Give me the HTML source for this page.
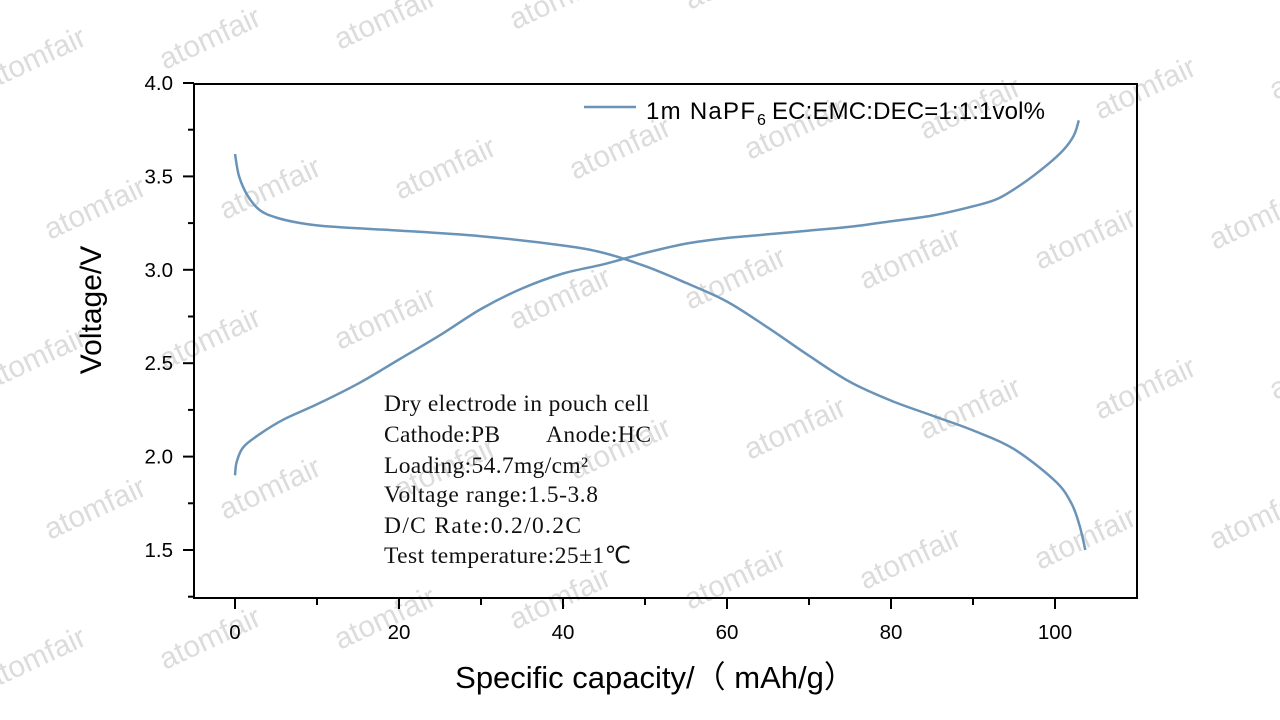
<!DOCTYPE html>
<html><head><meta charset="utf-8"><style>
html,body{margin:0;padding:0;background:#fff;overflow:hidden;width:1280px;height:720px;}
svg{display:block;}
</style></head><body>
<svg id="chart" width="1280" height="720" xmlns="http://www.w3.org/2000/svg" font-family="Liberation Sans, Arial, sans-serif" style="overflow:hidden">
<g id="wm"></g>
<rect x="194" y="84" width="943" height="514" fill="none" stroke="#000" stroke-width="2"/>
<g id="axes"></g>
<g id="series"></g>
<g>
<line x1="584" y1="107" x2="636" y2="107" stroke="#6a93b8" stroke-width="2.5"/>
<text font-size="24"><tspan x="646" y="119" textLength="109">1m NaPF</tspan><tspan x="757" y="125" font-size="16">6</tspan><tspan x="772" y="119" textLength="273">EC:EMC:DEC=1:1:1vol%</tspan></text>
</g>
<g font-family="Liberation Serif, serif" font-size="23.5" fill="#111">
<text x="384" y="411" textLength="265">Dry electrode in pouch cell</text>
<text x="384" y="442" textLength="116">Cathode:PB</text>
<text x="546" y="442" textLength="105">Anode:HC</text>
<text x="384" y="473" textLength="204">Loading:54.7mg/cm²</text>
<text x="384" y="502" textLength="214">Voltage range:1.5-3.8</text>
<text x="384" y="533" textLength="197">D/C Rate:0.2/0.2C</text>
<text x="384" y="563" textLength="247">Test temperature:25±1℃</text>
</g>
<text transform="translate(101,310) rotate(-90)" text-anchor="middle" font-size="30">Voltage/V</text>
<text x="655" y="688" text-anchor="middle" font-size="31">Specific capacity/（ mAh/g）</text>
</svg>
<script>
const xTicks=[0,20,40,60,80,100];
const yTicks=[1.5,2.0,2.5,3.0,3.5,4.0];
const chargeCap=[0,0.2,1,3,6,10,15,20,25,30,35,40,45,50,55,60,65,70,75,80,85,90,93,96,99,101,102.3,102.9];
const chargeV=[1.9,1.97,2.05,2.12,2.2,2.28,2.39,2.52,2.65,2.79,2.9,2.98,3.03,3.09,3.14,3.17,3.19,3.21,3.23,3.26,3.29,3.34,3.38,3.46,3.56,3.64,3.72,3.8];
const dischCap=[0,0.5,1.5,3,5,8,12,20,30,40,45,50,55,60,65,70,75,80,85,90,95,100,102,103,103.7];
const dischV=[3.62,3.5,3.4,3.32,3.28,3.25,3.23,3.21,3.18,3.13,3.09,3.02,2.93,2.83,2.69,2.54,2.4,2.3,2.22,2.14,2.04,1.87,1.75,1.63,1.5];
const X=v=>235+v*8.2;
const Y=v=>83+(4-v)*186.8;
const NS='http://www.w3.org/2000/svg';
function mk(tag,attrs,parent){const e=document.createElementNS(NS,tag);for(const k in attrs)e.setAttribute(k,attrs[k]);parent.appendChild(e);return e;}
const axes=document.getElementById('axes');
xTicks.forEach(t=>{
 const l=mk('line',{x1:X(t),x2:X(t),y1:598,y2:609,stroke:'#000','stroke-width':2},axes);
 
 
 const tx=mk('text',{x:X(t),y:639,'text-anchor':'middle','font-size':20.5},axes);tx.textContent=t;
 
 
 if(t<100){const m=mk('line',{x1:X(t+10),x2:X(t+10),y1:598,y2:605,stroke:'#000','stroke-width':2},axes);
 
 }
});
yTicks.forEach(t=>{
 const l=mk('line',{x1:183,x2:194,y1:Y(t),y2:Y(t),stroke:'#000','stroke-width':2},axes);
 
 
 const tx=mk('text',{x:173,y:Y(t)+7,'text-anchor':'end','font-size':20.5},axes);tx.textContent=t.toFixed(1);
 
 
 const m=mk('line',{x1:188,x2:194,y1:Y(t-0.25),y2:Y(t-0.25),stroke:'#000','stroke-width':2},axes);
 
 
});
const ser=document.getElementById('series');
function curve(xs,ys,name){
 const P=xs.map((x,i)=>[X(x),Y(ys[i])]);
 let d='M'+P[0][0].toFixed(1)+','+P[0][1].toFixed(1);
 for(let i=0;i<P.length-1;i++){
  const p0=P[Math.max(i-1,0)],p1=P[i],p2=P[i+1],p3=P[Math.min(i+2,P.length-1)];
  const c1=[p1[0]+(p2[0]-p0[0])/6,p1[1]+(p2[1]-p0[1])/6];
  const c2=[p2[0]-(p3[0]-p1[0])/6,p2[1]-(p3[1]-p1[1])/6];
  d+=' C'+c1[0].toFixed(1)+','+c1[1].toFixed(1)+' '+c2[0].toFixed(1)+','+c2[1].toFixed(1)+' '+p2[0].toFixed(1)+','+p2[1].toFixed(1);
 }
 const p=mk('path',{d:d,fill:'none',stroke:'#6a93b8','stroke-width':2.5,'stroke-linejoin':'round'},ser);
 
 
}
curve(chargeCap,chargeV,'charge-curve');
curve(dischCap,dischV,'discharge-curve');
const wm=document.getElementById('wm');
for(let r=0;r<5;r++){for(let c=0;c<8;c++){
 const xx=-10+c*175+(r%2)*60, yy=90+r*150-c*20;
 if(yy>715) continue;
 const t=mk('text',{x:xx,y:yy,'font-size':30,fill:'#dcdcdc',transform:`rotate(-25 ${xx} ${yy})`},wm);
 t.textContent='atomfair';
 
 
}}
</script>
</body></html>
